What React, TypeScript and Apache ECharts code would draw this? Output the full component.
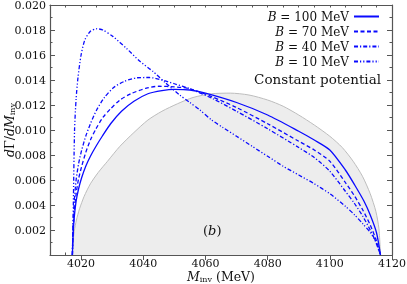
import React, { useEffect, useRef } from "react";
import * as echarts from "echarts";

const FONT = "DejaVu Serif";

const xMajorTicks = [4020, 4040, 4060, 4080, 4100, 4120];

const seriesNames = ["B = 100 MeV", "B = 70 MeV", "B = 40 MeV", "B = 10 MeV"];
const constName = "Constant potential";

const massConst = [4017.2, 4017.4, 4017.8, 4018.5, 4019.5, 4021, 4023, 4025.5, 4028.5, 4032.5, 4037, 4041.5, 4046, 4051, 4056, 4062, 4068, 4074, 4080, 4085, 4090, 4095, 4100, 4104, 4107.5, 4110.5, 4113, 4114.8, 4115.8, 4116.3];
const valConst = [0, 0.001, 0.0019, 0.0028, 0.0037, 0.0047, 0.0057, 0.0066, 0.0075, 0.0087, 0.0098, 0.0108, 0.0115, 0.0121, 0.0126, 0.0129, 0.01295, 0.0128, 0.0124, 0.0119, 0.0112, 0.0104, 0.0095, 0.0086, 0.0075, 0.0063, 0.0049, 0.0035, 0.0021, 0];

const massB100 = [4017.2, 4017.4, 4017.8, 4018.4, 4019.2, 4020.2, 4021.5, 4023, 4024.8, 4026.8, 4029.5, 4033, 4037, 4041.5, 4046, 4050, 4055, 4060, 4070, 4080, 4090, 4095, 4100, 4105, 4108, 4111, 4113, 4115, 4116.3];
const valB100 = [0, 0.0015, 0.003, 0.0043, 0.0053, 0.0062, 0.0071, 0.0079, 0.0087, 0.0095, 0.0105, 0.0115, 0.0123, 0.0129, 0.01315, 0.01325, 0.0132, 0.01295, 0.0122, 0.0112, 0.0099, 0.0092, 0.0084, 0.0068, 0.0056, 0.0043, 0.0032, 0.0018, 0];

const massB70 = [4017.2, 4017.4, 4017.8, 4018.4, 4019.2, 4020.2, 4021.5, 4023, 4024.8, 4027, 4029.5, 4032.5, 4036, 4041, 4045, 4050, 4055, 4062, 4070, 4080, 4090, 4095, 4100, 4105, 4108, 4110.6, 4113, 4114.9, 4116.3];
const valB70 = [0, 0.0017, 0.0034, 0.0049, 0.0061, 0.0071, 0.0082, 0.0092, 0.0101, 0.011, 0.0117, 0.0124, 0.0129, 0.01335, 0.0135, 0.01345, 0.0133, 0.01267, 0.0118, 0.0105, 0.0091, 0.0084, 0.0075, 0.0058, 0.0047, 0.0036, 0.0024, 0.0012, 0];

const massB40 = [4017.2, 4017.4, 4017.8, 4018.4, 4019.2, 4020.2, 4021.5, 4023, 4025, 4027.5, 4030.5, 4034, 4038, 4042, 4046, 4050, 4055, 4062.4, 4070, 4080, 4090, 4095, 4100, 4105, 4108, 4110.6, 4113, 4114.5, 4116.3];
const valB40 = [0, 0.0022, 0.0043, 0.006, 0.0073, 0.0084, 0.0095, 0.0105, 0.0116, 0.0126, 0.0134, 0.0139, 0.01418, 0.0142, 0.014, 0.0137, 0.0133, 0.0125, 0.0115, 0.0101, 0.0086, 0.0078, 0.0067, 0.0051, 0.0041, 0.0031, 0.002, 0.0012, 0];

const massB10 = [4017.2, 4017.5, 4017.9, 4018.4, 4019, 4020, 4021.2, 4023, 4025, 4027, 4030.3, 4034.6, 4038.9, 4043.2, 4047, 4051.7, 4055, 4058.2, 4062, 4065.6, 4070, 4075, 4080, 4085, 4090, 4095, 4100, 4105, 4108, 4110.6, 4113, 4114.8, 4116.3];
const valB10 = [0, 0.004, 0.01, 0.0125, 0.0142, 0.016, 0.0172, 0.0179, 0.0181, 0.018, 0.01747, 0.01653, 0.0155, 0.01467, 0.0138, 0.0128, 0.0122, 0.0116, 0.0108, 0.0102, 0.0095, 0.0087, 0.0079, 0.0071, 0.0064, 0.0057, 0.0049, 0.0039, 0.0032, 0.0025, 0.0018, 0.0011, 0];

const zip = (xs: number[], ys: number[]) => xs.map((x, i) => [x, ys[i]]);

const BLUE = "#0a0aff";
const AXIS = "#555555";
const TXT = "#111111";

export default function App() {
  const ref = useRef<HTMLDivElement>(null);
  useEffect(() => {
    const chart = echarts.init(ref.current!, null, { renderer: "svg" });
    const richSub = {
      i: { fontStyle: "italic", fontFamily: FONT, fontSize: 12.5, lineHeight: 13, color: TXT },
      s: { fontFamily: FONT, fontSize: 8, lineHeight: 7, verticalAlign: "bottom", color: TXT },
    };
    const minorX = (pos: "top" | "bottom", labels: boolean) => ({
      type: "value",
      position: pos,
      min: 4010,
      max: 4120,
      interval: 5,
      axisLine: { show: true, onZero: false, lineStyle: { color: AXIS, width: 1.2 } },
      axisTick: { show: true, inside: true, length: 2.5, lineStyle: { color: AXIS } },
      axisLabel: labels
        ? {
            show: true,
            margin: 3,
            color: TXT,
            fontFamily: FONT,
            fontSize: 11,
            formatter: (v: number) => (v % 20 === 0 ? String(v) : ""),
          }
        : { show: false },
      splitLine: { show: false },
      ...(labels
        ? {
            name: "{i|M}{s|inv} (MeV)",
            nameLocation: "middle",
            nameGap: 15,
            nameMoveOverlap: false,
            nameTextStyle: { color: TXT, fontFamily: FONT, fontSize: 12.5, lineHeight: 13, rich: richSub },
          }
        : {}),
    });
    const majorX = (pos: "top" | "bottom") => ({
      type: "value",
      position: pos,
      min: 4010,
      max: 4120,
      interval: 5,
      axisLine: { show: false },
      axisTick: { show: true, inside: true, length: 5, customValues: xMajorTicks, lineStyle: { color: AXIS } },
      axisLabel: { show: false },
      splitLine: { show: false },
    });
    const yAx = (pos: "left" | "right", labels: boolean) => ({
      type: "value",
      position: pos,
      min: 0,
      max: 0.02,
      interval: 0.002,
      axisLine: { show: true, onZero: false, lineStyle: { color: AXIS, width: 1.2 } },
      axisTick: { show: true, inside: true, length: 5, lineStyle: { color: AXIS } },
      minorTick: { show: true, splitNumber: 2, length: 2.5, lineStyle: { color: AXIS } },
      axisLabel: labels
        ? {
            show: true,
            margin: 4,
            color: TXT,
            fontFamily: FONT,
            fontSize: 11,
            formatter: (v: number) => (v === 0 ? "" : v.toFixed(3)),
          }
        : { show: false },
      splitLine: { show: false },
      minorSplitLine: { show: false },
      ...(labels
        ? {
            name: "{i|d}Γ/{i|dM}{s|inv}",
            nameLocation: "middle",
            nameGap: 34,
            nameRotate: 90,
            nameMoveOverlap: false,
            nameTextStyle: { color: TXT, fontFamily: FONT, fontSize: 12.5, lineHeight: 13, rich: richSub },
          }
        : {}),
    });

    const dashTypes: any[] = ["solid", [4, 2.5], [4, 2, 1.2, 2], [4, 2, 1.2, 2, 1.2, 2]];
    const curveData = [zip(massB100, valB100), zip(massB70, valB70), zip(massB40, valB40), zip(massB10, valB10)];

    const option: any = {
      animation: false,
      grid: { left: 50, right: 15, top: 5, bottom: 29, containLabel: false, outerBoundsMode: "none" },
      xAxis: [minorX("bottom", true), majorX("bottom"), minorX("top", false), majorX("top")],
      yAxis: [yAx("left", true), yAx("right", false)],
      legend: {
        data: seriesNames,
        orient: "vertical",
        align: "right",
        right: 27,
        top: 10,
        padding: 0,
        itemWidth: 25,
        itemHeight: 10,
        itemGap: 2,
        itemStyle: { color: "rgba(0,0,0,0)", borderColor: "rgba(0,0,0,0)", borderWidth: 0, opacity: 0 },
        textStyle: {
          fontFamily: FONT,
          fontSize: 12,
          color: TXT,
          lineHeight: 13,
          rich: {
            i: { fontStyle: "italic", fontFamily: FONT, fontSize: 12, color: TXT },
          },
        },
        formatter: (n: string) => (n.startsWith("B") ? "{i|B}" + n.slice(1) : n),
      },
      graphic: [
        {
          type: "text",
          right: 26,
          top: 72,
          z: 100,
          style: { text: constName, fontFamily: FONT, fontSize: 13.5, fill: TXT },
        },
        {
          type: "text",
          left: 203,
          top: 224,
          z: 100,
          style: {
            text: "({i|b})",
            fontFamily: FONT,
            fontSize: 13,
            fill: TXT,
            rich: { i: { fontStyle: "italic", fontFamily: FONT, fontSize: 13, fill: TXT } },
          },
        },
      ],
      series: [
        {
          name: constName,
          type: "line",
          data: zip(massConst, valConst),
          symbol: "none",
          smooth: 0.25,
          lineStyle: { color: "#bdbdbd", width: 1 },
          areaStyle: { color: "#ededed", opacity: 1 },
          z: 1,
        },
        ...seriesNames.map((name, i) => ({
          name,
          type: "line",
          data: curveData[i],
          symbol: "none",
          smooth: 0.25,
          color: BLUE,
          lineStyle: { color: BLUE, width: 1.3, type: dashTypes[i] },
          z: 3,
        })),
      ],
    };
    chart.setOption(option);
    return () => chart.dispose();
  }, []);
  return <div ref={ref} style={{ position: "fixed", left: 0, top: 0, width: 407, height: 284 }} />;
}
